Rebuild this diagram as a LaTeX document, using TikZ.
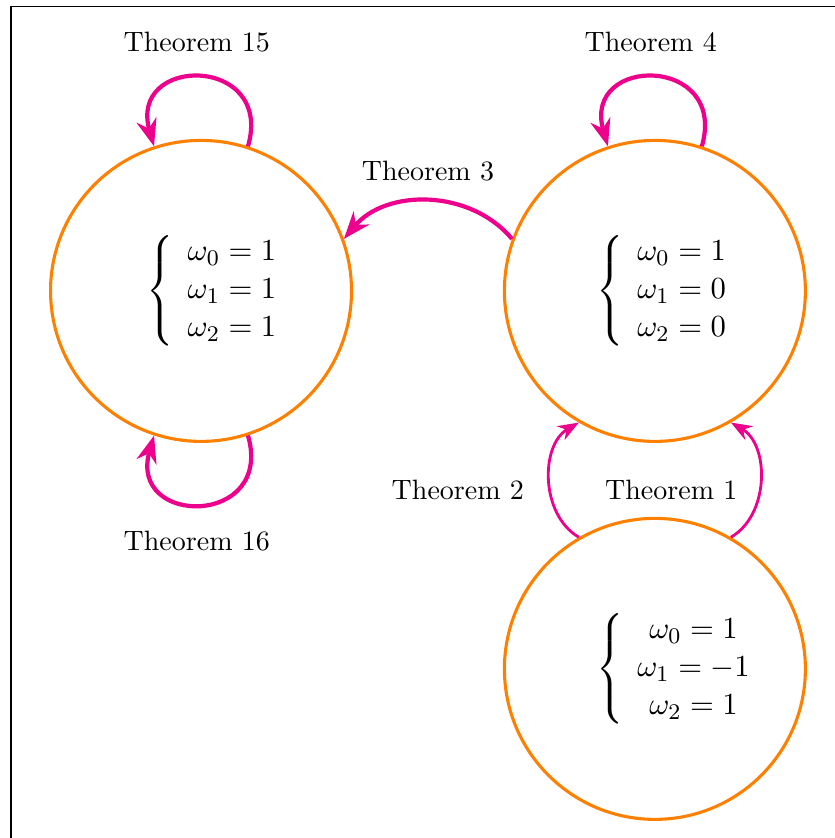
\documentclass[tikz,border=0pt]{standalone}
\usepackage{tikz}
\usetikzlibrary{positioning,arrows.meta}
\usepackage{amsmath}
\definecolor{Pink}{HTML}{EC008C}
\definecolor{Amber}{HTML}{FF8000}

\begin{document}
\begin{tikzpicture}[
  node distance=53.5pt,
  state/.style={
    circle,
    draw=Amber,
    line width=1.1pt,
    minimum size=107.5pt,
    inner sep=0pt,
    text width=39pt,
    align=left,
    font=\fontsize{11}{13.6}\selectfont
  },
  arr/.style={-{Stealth}, line width=1.5pt, draw=Pink},
  arrthin/.style={-{Stealth}, line width=1pt, draw=Pink}
]
\useasboundingbox (-71.8pt,103.9pt) rectangle (226.1pt,-195.4pt);
\draw[line width=0.6pt] (-67.9pt,-220pt) -- (-67.9pt,101.6pt) -- (240pt,101.6pt);

\node[state] (w111) at (0,0) {$\left\{\begin{array}{c}\omega_0=1\\\omega_1=1\\\omega_2=1\end{array}\right.$};
\node[state, text width=42pt, right=of w111] (w100) {$\left\{\begin{array}{c}\omega_0=1\\\omega_1=0\\\omega_2=0\end{array}\right.$};
\node[state, text width=42pt, below=26.4pt of w100] (w1m1) {$\left\{\begin{array}{c}\omega_0=1\\\omega_1=-1\\\omega_2=1\end{array}\right.$};

\draw[arr] (w111.72) to[out=74, in=106, looseness=2.6] node[above=5pt, xshift=-1.5pt] (t15) {Theorem 15} (w111.108);
\draw[arr] (w111.-72) to[out=-74, in=-106, looseness=2.6] node[below=5.5pt, xshift=-1.5pt] (t16) {Theorem 16} (w111.-108);
\draw[arr] (w100.72) to[out=74, in=106, looseness=2.6] node[above=5pt, xshift=-1.5pt] (t4) {Theorem 4} (w100.108);
\draw[arr] (w100.160) to[bend right=50] node[above=3pt] (t3) {Theorem 3} (w111.20);
\draw[arrthin] (w1m1.120) to[bend left=60] node[pos=0.43, left=5.6pt] (t2) {Theorem 2} (w100.240);
\draw[arrthin] (w1m1.60) to[bend right=60] node[pos=0.43, left=4pt] (t1) {Theorem 1} (w100.300);
\end{tikzpicture}
\end{document}
